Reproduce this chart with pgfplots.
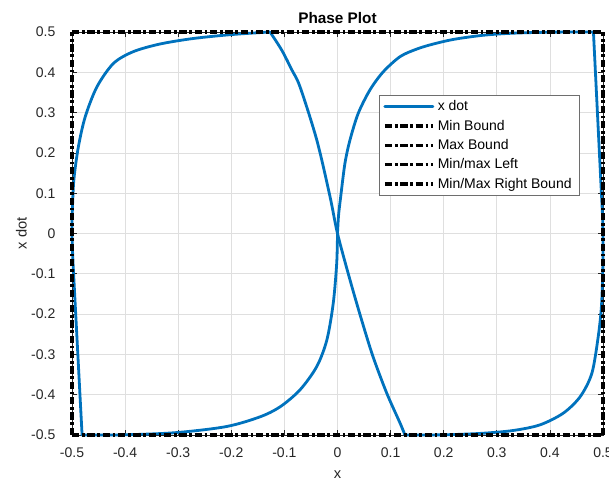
\documentclass[border=0pt]{standalone}
\usepackage{pgfplots}
\pgfplotsset{compat=1.18}
\usepackage{fontspec}
\setmainfont{Liberation Sans}
\definecolor{mblue}{RGB}{0,114,189}
\definecolor{gridc}{RGB}{223,223,223}
\definecolor{axc}{RGB}{38,38,38}
\tikzset{bdash/.style={draw=black, line width=2.4pt, dash pattern=on 5.5pt off 2pt on 2pt off 2pt}}
\begin{document}
\begin{tikzpicture}
\begin{axis}[
  scale only axis,
  width=398.25pt, height=302.25pt,
  xmin=-0.5, xmax=0.5, ymin=-0.5, ymax=0.5,
  clip=false,
  xtick={-0.5,-0.4,-0.3,-0.2,-0.1,0,0.1,0.2,0.3,0.4,0.5},
  xticklabels={-0.5,-0.4,-0.3,-0.2,-0.1,0,0.1,0.2,0.3,0.4,0.5},
  ytick={-0.5,-0.4,-0.3,-0.2,-0.1,0,0.1,0.2,0.3,0.4,0.5},
  yticklabels={-0.5,-0.4,-0.3,-0.2,-0.1,0,0.1,0.2,0.3,0.4,0.5},
  tick align=inside,
  major tick length=3.5pt,
  tick style={axc, line width=0.5pt},
  axis line style={axc, line width=0.5pt},
  grid=major,
  major grid style={gridc, line width=0.5pt},
  ticklabel style={font=\fontsize{10.5}{12}\selectfont, text=axc},
  xticklabel style={yshift=-6pt},
  yticklabel style={xshift=-9pt},
  title={\textbf{Phase Plot}},
  title style={font=\fontsize{11.5}{13}\selectfont, anchor=base},
  xlabel={x},
  ylabel={x dot},
  label style={font=\fontsize{11}{13}\selectfont, text=axc},
  xlabel style={at={(axis description cs:0.5,0)}, anchor=center, yshift=-30pt},
  ylabel style={at={(axis description cs:-0.0954,0.5)}, anchor=center},
  legend cell align=left,
  legend style={at={(0.578,0.844)}, anchor=north west, draw={rgb,255:red,110;green,110;blue,110}, line width=0.5pt,
     font=\fontsize{10.5}{12}\selectfont, inner xsep=3pt, inner ysep=2.5pt, row sep=2.4pt,
     nodes={inner xsep=2.5pt, inner ysep=1.5pt}},
  legend image code/.code={\draw[#1] (0pt,0pt) -- (36pt,0pt);},
]
% top-right arc from origin
\addplot[mblue, line width=2.1pt, line join=round, line cap=round, smooth, tension=0.5] coordinates {
(0,0) (0.002,0.045) (0.006,0.091) (0.014,0.174) (0.0235,0.232) (0.039,0.298)
(0.061,0.356) (0.086,0.401) (0.118,0.439) (0.15,0.458) (0.18,0.47) (0.22,0.482)
(0.275,0.492) (0.33,0.497) (0.4,0.4995) (0.482,0.5)
};
\addlegendentry{x dot}
\addplot[mblue, line width=2.1pt, line join=round, line cap=round, forget plot] coordinates {(0.482,0.5) (0.497,0.1)};
\addplot[mblue, line width=2.1pt, line join=round, line cap=round, smooth, tension=0.5, forget plot] coordinates {
(0.497,0.1) (0.4995,0.03) (0.5,-0.05) (0.4995,-0.1) (0.497,-0.182) (0.491,-0.256)
(0.479,-0.347) (0.457,-0.405) (0.425,-0.446) (0.381,-0.475) (0.33,-0.489)
(0.27,-0.496) (0.2,-0.4995) (0.127,-0.5)
};
\addplot[mblue, line width=2.1pt, line join=round, line cap=round, smooth, tension=0.5, forget plot] coordinates {
(0.127,-0.5) (0.118,-0.471) (0.093,-0.397) (0.067,-0.306) (0.0455,-0.215) (0.0235,-0.115) (0,0)
(-0.014,0.091) (-0.039,0.232) (-0.0706,0.364) (-0.086,0.406) (-0.105,0.455) (-0.127,0.5)
};
\addplot[mblue, line width=2.1pt, line join=round, line cap=round, smooth, tension=0.5, forget plot] coordinates {
(-0.127,0.5) (-0.196,0.494) (-0.271,0.484) (-0.335,0.47) (-0.385,0.451) (-0.422,0.422)
(-0.453,0.364) (-0.475,0.29) (-0.488,0.215) (-0.4965,0.133) (-0.4995,0.05) (-0.5,0)
(-0.4985,-0.06) (-0.497,-0.1)
};
\addplot[mblue, line width=2.1pt, line join=round, line cap=round, forget plot] coordinates {(-0.497,-0.1) (-0.481,-0.5)};
\addplot[mblue, line width=2.1pt, line join=round, line cap=round, smooth, tension=0.5, forget plot] coordinates {
(-0.481,-0.5) (-0.4,-0.4995) (-0.303,-0.494) (-0.209,-0.479) (-0.146,-0.455) (-0.108,-0.43)
(-0.0706,-0.388) (-0.039,-0.33) (-0.020,-0.264) (-0.008,-0.173) (-0.0015,-0.074) (0,0)
};
\addplot[bdash] coordinates {(-0.5,-0.5) (0.5,-0.5)};
\addlegendentry{Min Bound}
\addplot[bdash] coordinates {(-0.5,0.5) (0.5,0.5)};
\addlegendentry{Max Bound}
\addplot[bdash] coordinates {(-0.5,-0.5) (-0.5,0.5)};
\addlegendentry{Min/max Left}
\addplot[bdash] coordinates {(0.5,-0.5) (0.5,0.5)};
\addlegendentry{Min/Max Right Bound}
\end{axis}
\pgfresetboundingbox
\path ([shift={(-54pt,-34.5pt)}]current axis.south west) rectangle ([shift={(4.5pt,24pt)}]current axis.north east);
\end{tikzpicture}
\end{document}
